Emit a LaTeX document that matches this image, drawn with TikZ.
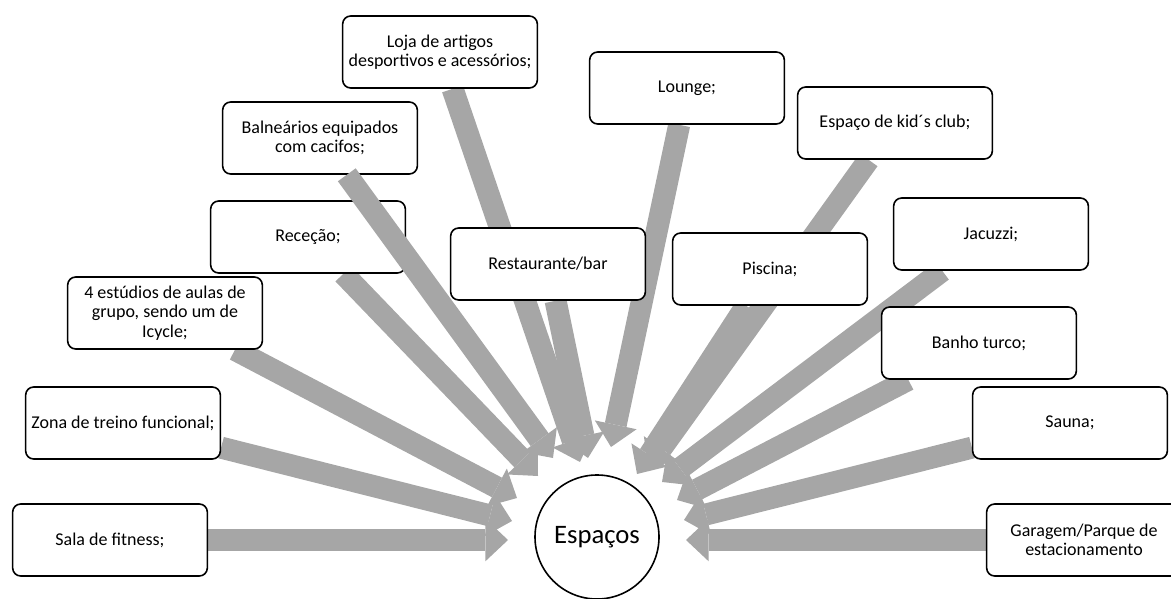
\documentclass[tikz,border=0pt]{standalone}
\usepackage{fontspec}
\setmainfont{Carlito}
\usetikzlibrary{arrows.meta,backgrounds}
\definecolor{cinza}{HTML}{A6A6A6}

\begin{document}
\begin{tikzpicture}[x=0.75pt,y=-0.75pt,
	caixa/.style={draw,rounded corners=6pt,line width=1.2pt,fill=white,minimum width=146pt,minimum height=54pt,inner sep=2pt,align=center,font=\fontsize{13.5}{14.5}\selectfont},
	centro/.style={draw,circle,line width=1.2pt,fill=white,minimum size=93pt,font=\fontsize{20}{22}\selectfont},
	seta/.style={color=cinza,line width=16.5pt,-{Triangle[width=32pt,length=17pt,line width=0pt]}}]
				\useasboundingbox (0,0) rectangle (1171,599);
				
				\node[centro] (esp) at (597,537) {Espaços};
				
				\node[caixa] (sala)   at (110,540)  {Sala de fitness;};
				\node[caixa] (zona)   at (123,423)  {Zona de treino funcional;};
				\node[caixa] (est)    at (165,313)  {4 estúdios de aulas de\\grupo, sendo um de\\Icycle;};
				\node[caixa] (rec)    at (308,237)  {Receção;};
				\node[caixa] (bal)    at (320,138)  {Balneários equipados\\com cacifos;};
				\node[caixa] (loja)   at (440,52)   {Loja de artigos\\desportivos e acessórios;};
				\node[caixa] (rest)   at (548,264)  {Restaurante/bar};
				\node[caixa] (lounge) at (687,88)   {Lounge;};
				\node[caixa] (kid)    at (895,123)  {Espaço de kid´s club;};
				\node[caixa] (pisc)   at (770,269)  {Piscina;};
				\node[caixa] (jac)    at (991,234)  {Jacuzzi;};
				\node[caixa] (banho)  at (979,343)  {Banho turco;};
				\node[caixa] (sauna)  at (1070,423) {Sauna;};
				\node[caixa] (gar)    at (1084,540) {Garagem/Parque de\\estacionamento};
				
				% pontas das setas
				\coordinate (t_sala)   at (508,540);
				\coordinate (t_zona)   at (512,521);
				\coordinate (t_est)    at (517,498);
				\coordinate (t_rec)    at (538,476);
				\coordinate (t_bal)    at (553,458);
				\coordinate (t_loja)   at (580,462);
				\coordinate (t_rest)   at (588,458);
				\coordinate (t_lounge) at (611,447);
				\coordinate (t_kid)    at (648,467);
				\coordinate (t_pisc)   at (637,474);
				\coordinate (t_jac)    at (662,482);
				\coordinate (t_banho)  at (677,500);
				\coordinate (t_sauna)  at (684,520);
				\coordinate (t_gar)    at (686,540);
				
				\begin{pgfonlayer}{background}
				\path[seta] 
				(sala) edge (t_sala)
				(zona) edge (t_zona)
				(est) edge (t_est)
				(rec) edge (t_rec)
				(loja) edge (t_loja)
				(rest) edge (t_rest)
				(lounge) edge (t_lounge)
				(kid) edge (t_kid)
				(pisc) edge (t_pisc)
				(jac) edge (t_jac)
				(banho) edge (t_banho)
				(sauna) edge (t_sauna)
				(gar) edge (t_gar);
				\end{pgfonlayer}
				
				\path[seta] (bal) edge (t_bal);
				
\end{tikzpicture}
\end{document}
